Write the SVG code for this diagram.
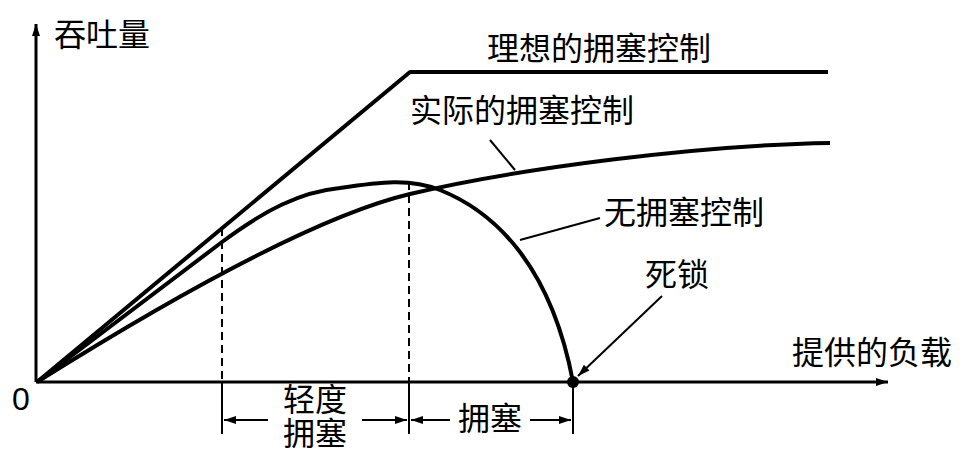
<svg xmlns="http://www.w3.org/2000/svg" width="970" height="470" viewBox="0 0 970 470">
<style>
text{font-family:"Liberation Sans","Noto Sans CJK SC",sans-serif;font-size:32px;fill:#000}
.c{fill:none;stroke:#000;stroke-width:4;stroke-linejoin:round}
.l{fill:none;stroke:#000;stroke-width:2}
.d{fill:none;stroke:#000;stroke-width:2;stroke-dasharray:8,5}
</style>
<defs>
<marker id="b" viewBox="0 0 12 10" refX="12" refY="5" markerWidth="16" markerHeight="10" orient="auto-start-reverse" markerUnits="userSpaceOnUse"><path d="M0,1 L12,5 L0,9 z" fill="#000"/></marker>
</defs>
<g id="axes">
<line x1="36" y1="382" x2="36" y2="24" stroke="#000" stroke-width="3" marker-end="url(#b)"/>
<line x1="36" y1="382" x2="888" y2="382" stroke="#000" stroke-width="3" marker-end="url(#b)"/>
<text x="12" y="410">0</text>
<text x="54" y="46">吞吐量</text>
<text x="792" y="364">提供的负载</text>
</g>
<g id="ideal"><path class="c" d="M37,382 L410,72 L828,72"/><text x="487" y="60">理想的拥塞控制</text></g>
<g id="actual"><path class="c" d="M37,382 C120,330 300,220 410,194 C520,168 700,145 830,143"/><text x="410" y="122">实际的拥塞控制</text></g>
<g id="none"><path class="c" d="M37,382 L222,242 C265,210 300,192 340,188 C380,182 410,178 440,190 C490,210 550,260 573,382"/><text x="604" y="224">无拥塞控制</text></g>
<g id="deadlock"><circle cx="573" cy="382" r="6"/><text x="645" y="286">死锁</text></g>
<g id="connectors">
<line class="l" x1="490" y1="140" x2="515" y2="170"/>
<line class="l" x1="600" y1="218" x2="520" y2="240"/>
<line class="l" x1="662" y1="296" x2="578" y2="376" marker-end="url(#b)"/>
<line class="d" x1="222" y1="228" x2="222" y2="382"/>
<line class="d" x1="409" y1="182" x2="409" y2="382"/>
<line class="l" x1="222" y1="382" x2="222" y2="434"/>
<line class="l" x1="409" y1="382" x2="409" y2="434"/>
<line class="l" x1="573" y1="382" x2="573" y2="434"/>
<line class="l" x1="268" y1="420" x2="224" y2="420" marker-end="url(#b)"/>
<line class="l" x1="362" y1="420" x2="407" y2="420" marker-end="url(#b)"/>
<line class="l" x1="450" y1="420" x2="411" y2="420" marker-end="url(#b)"/>
<line class="l" x1="530" y1="420" x2="571" y2="420" marker-end="url(#b)"/>
</g>
<g id="ranges">
<text x="283" y="411">轻度</text>
<text x="283" y="445">拥塞</text>
<text x="458" y="430">拥塞</text>
</g>
</svg>
